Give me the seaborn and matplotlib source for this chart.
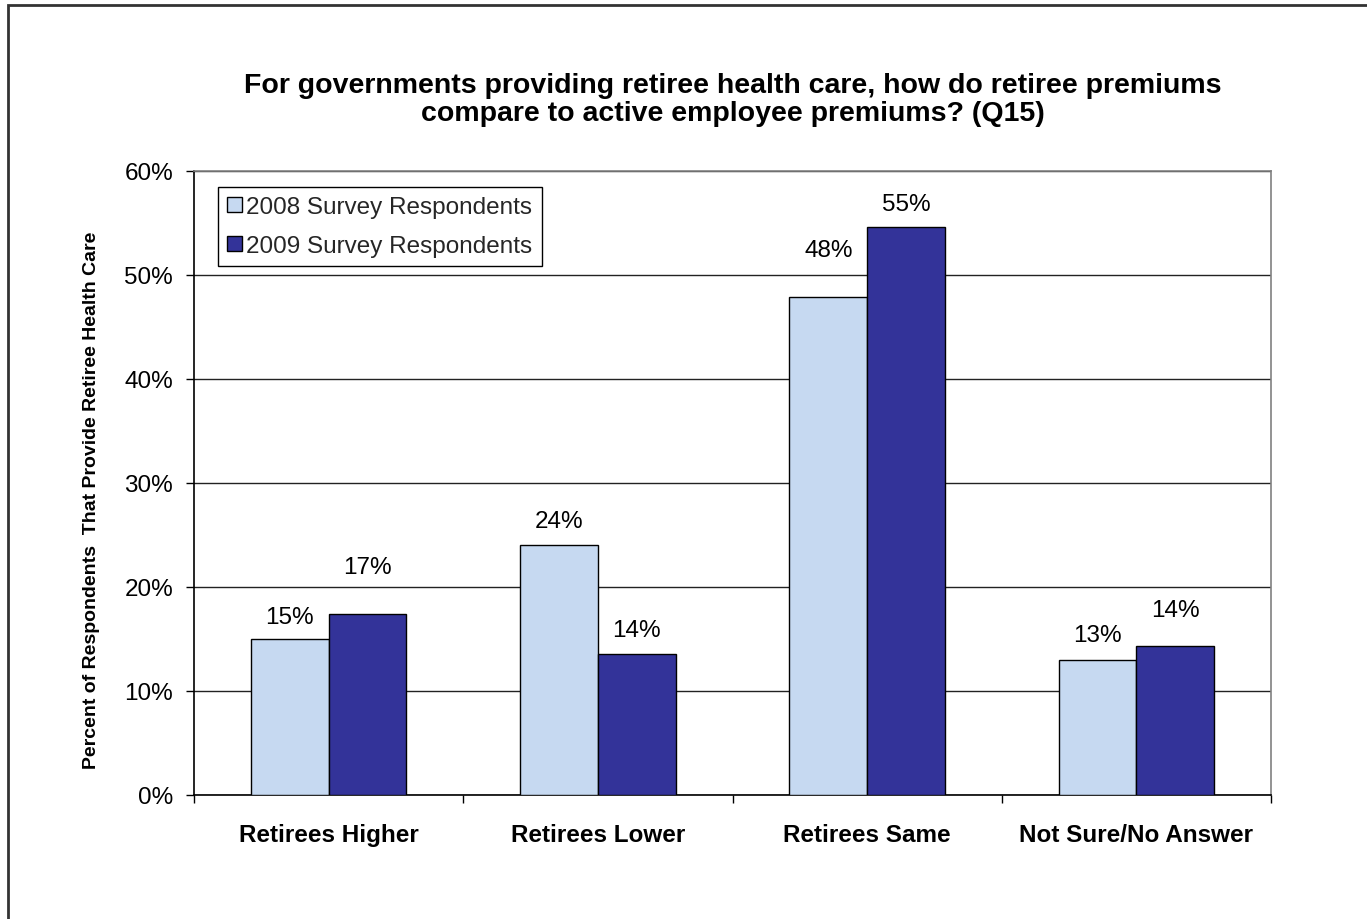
import matplotlib
matplotlib.use("Agg")
import matplotlib.pyplot as plt
from matplotlib.patches import Rectangle
from matplotlib.ticker import FixedLocator, FuncFormatter
import seaborn as sns
import pandas as pd

categories = ["Retirees Higher", "Retirees Lower", "Retirees Same", "Not Sure/No Answer"]
series_names = ["2008 Survey Respondents", "2009 Survey Respondents"]
values_2008 = [15.0, 24.0, 47.9, 13.0]
values_2009 = [17.4, 13.6, 54.6, 14.3]
y_ticks = [0, 10, 20, 30, 40, 50, 60]

# label offsets above each bar (points)
label_pad_2008 = [8, 10, 26, 10]
label_pad_2009 = [26, 9, 9, 18]

colors = {"2008 Survey Respondents": "#C6D9F1", "2009 Survey Respondents": "#333399"}

df = pd.DataFrame({
    "category": categories * 2,
    "series": [series_names[0]] * 4 + [series_names[1]] * 4,
    "value": values_2008 + values_2009,
})

sns.set_theme(style="white")
plt.rcParams["font.family"] = ["Liberation Sans", "DejaVu Sans"]

W, H = 1367, 920
fig = plt.figure(figsize=(W / 100, H / 100), dpi=100)
ax = fig.add_axes([194 / W, 1 - 796 / H, (1271 - 194) / W, (796 - 172) / H])

sns.barplot(data=df, x="category", y="value", hue="series", order=categories,
            hue_order=series_names, palette=colors, saturation=1, width=0.577, gap=0,
            edgecolor="black", linewidth=1, ax=ax, zorder=3)

ax.set_xlim(-0.5, 3.5)
ax.set_ylim(0, 60)
ax.yaxis.set_major_locator(FixedLocator(y_ticks))
ax.yaxis.set_major_formatter(FuncFormatter(lambda v, p: f"{v:.0f}%"))
ax.grid(axis="y", color="#222222", linewidth=1, zorder=0)
ax.grid(axis="x", visible=False)
ax.set_axisbelow(True)

ax.tick_params(axis="y", which="major", direction="out", length=6, width=1,
               color="black", labelsize=17.5, pad=9, left=True)
ax.tick_params(axis="x", which="major", length=0, labelsize=17.5, pad=20)
ax.xaxis.set_minor_locator(FixedLocator([-0.5, 0.5, 1.5, 2.5, 3.5]))
ax.tick_params(axis="x", which="minor", direction="out", length=6, width=1,
               color="black", bottom=True)
for lbl in ax.get_xticklabels():
    lbl.set_fontweight("bold")
    lbl.set_color("black")
for lbl in ax.get_yticklabels():
    lbl.set_color("black")

for side in ["left", "bottom"]:
    ax.spines[side].set_color("black")
    ax.spines[side].set_linewidth(1.2)
for side in ["top", "right"]:
    ax.spines[side].set_color("#808080")
    ax.spines[side].set_linewidth(1.2)

ax.set_xlabel("")
ax.set_ylabel("Percent of Respondents  That Provide Retiree Health Care",
              fontsize=14, fontweight="bold", color="black")
ax.yaxis.set_label_coords(-0.087, 0.474)

for container, pads in zip(ax.containers, [label_pad_2008, label_pad_2009]):
    for bar, val, pad in zip(container, container.datavalues, pads):
        ax.annotate(f"{val:.0f}%", xy=(bar.get_x() + bar.get_width() / 2, bar.get_height()),
                    xytext=(0, pad), textcoords="offset points", ha="center", va="bottom",
                    fontsize=17.5, color="black")

leg = ax.legend(loc="upper left", bbox_to_anchor=(0.022, 0.975), fontsize=17.5,
                frameon=True, fancybox=False, edgecolor="black", framealpha=1,
                handlelength=0.6, handleheight=0.6, handletextpad=0.2,
                borderpad=0.38, labelspacing=0.7, borderaxespad=0)
leg.get_frame().set_linewidth(1)
for h in leg.legend_handles:
    h.set_edgecolor("black")
    h.set_linewidth(1)

fig.text(733 / W, 1 - 100 / H,
         "For governments providing retiree health care, how do retiree premiums\ncompare to active employee premiums? (Q15)",
         ha="center", va="center", fontsize=20.5, fontweight="bold", color="black",
         linespacing=1.1)

fig.patches.append(Rectangle((8 / W, -0.05), 1.1, 1 - 6 / H + 0.05,
                             transform=fig.transFigure, fill=False,
                             edgecolor="#333333", linewidth=2))

fig.savefig("out.png", dpi=100, facecolor="white")
